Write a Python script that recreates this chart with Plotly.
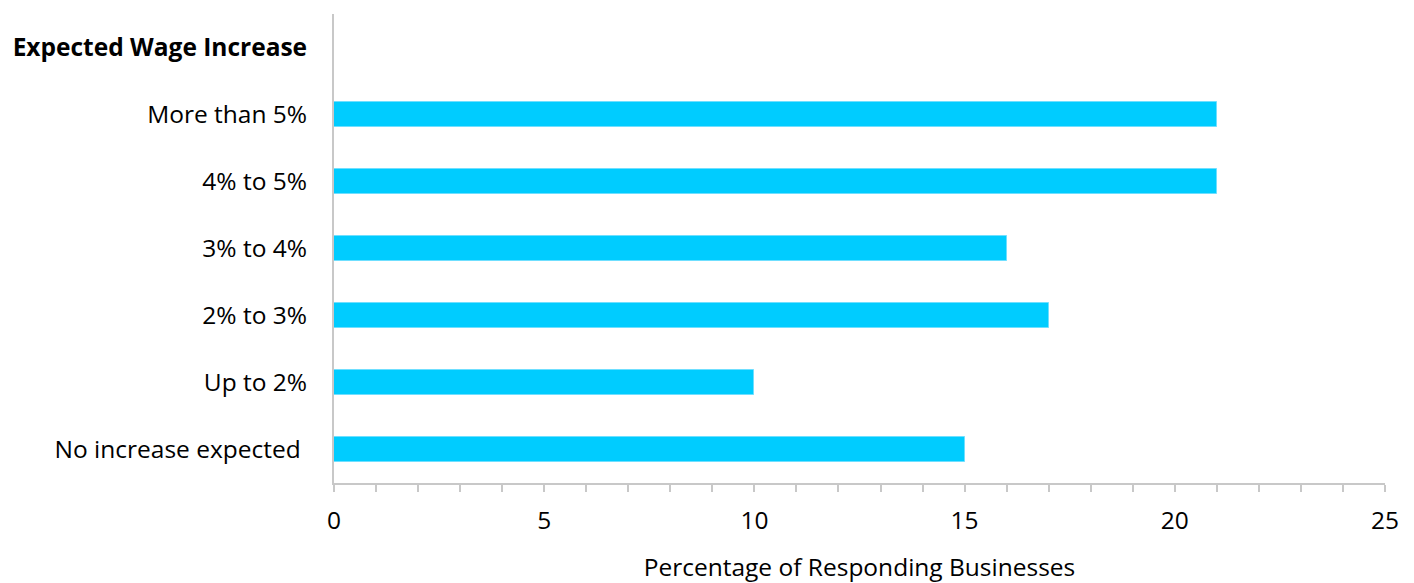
import plotly.graph_objects as go

categories = ["No increase expected\u00a0", "Up to 2%", "2% to 3%", "3% to 4%", "4% to 5%", "More than 5%", "<b>Expected Wage Increase</b>"]
values = [15, 10, 17, 16, 21, 21, None]
x_ticks = [0, 5, 10, 15, 20, 25]

fig = go.Figure(go.Bar(
    y=categories, x=values, orientation="h",
    marker=dict(color="#00CCFF", line=dict(color="#6FDFFF", width=1)),
    width=0.36,
))

font = "Segoe UI, Open Sans, Noto Sans, sans-serif"
fig.update_layout(
    width=1414, height=583,
    margin=dict(l=334, r=29, t=14, b=100),
    plot_bgcolor="white", paper_bgcolor="white",
    showlegend=False,
    font=dict(family=font, size=24.5, color="#000000"),
    bargap=0,
)
fig.update_xaxes(
    range=[0, 25], tickvals=x_ticks, showgrid=False, zeroline=False,
    showline=True, linecolor="#C8C8C8", linewidth=2,
    ticks="outside", ticklen=7, tickwidth=2, tickcolor="#C8C8C8",
    minor=dict(dtick=1, ticks="outside", ticklen=7, tickwidth=2, tickcolor="#C8C8C8", showgrid=False),
    tickfont=dict(size=24.5), ticklabelstandoff=8,
    automargin=False,
    title=dict(text="Percentage of Responding Businesses", font=dict(size=24.5), standoff=26),
)
fig.update_yaxes(
    type="category", categoryorder="array", categoryarray=categories,
    showgrid=False, zeroline=False,
    showline=True, linecolor="#C8C8C8", linewidth=2,
    tickfont=dict(size=24.5), automargin=False,
    ticks="outside", ticklen=20, tickcolor="rgba(0,0,0,0)",
)
fig.write_html("out.html")
